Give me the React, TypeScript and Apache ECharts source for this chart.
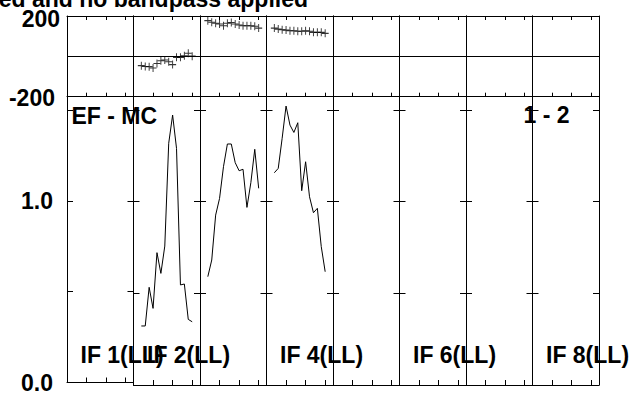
import React, { useEffect, useRef } from "react";
import * as echarts from "echarts";

// ---- data ----
const TITLE = "ed and no bandpass applied";
const SOURCE_LABEL = "EF - MC";
const BASELINE_LABEL = "1 - 2";
const IF_LABELS = ["IF 1(LL)", "IF 2(LL)", "", "IF 4(LL)", "", "IF 6(LL)", "", "IF 8(LL)"];
const CHANNELS = [2, 3, 4, 5, 6, 7, 8, 9, 10, 11, 12, 13, 14, 15];

const PHASE_IF2 = [-46, -50, -51, -58, -35, -22, -18, -27, -41, -5, -5, 3, 15, 1];
const PHASE_IF3 = [177, 169, 164, 160, 152, 164, 168, 160, 155, 152, 152, 152, 149, 140];
const PHASE_IF4 = [140, 135, 132, 130, 127, 127, 124, 124, 127, 124, 119, 119, 119, 114];

const AMP_IF2 = [0.322, 0.322, 0.533, 0.418, 0.722, 0.609, 0.758, 1.319, 1.473, 1.291, 0.546, 0.551, 0.358, 0.345];
const AMP_IF3 = [0.591, 0.682, 0.927, 1.018, 1.191, 1.315, 1.315, 1.213, 1.169, 1.177, 0.969, 1.104, 1.286, 1.073];
const AMP_IF4 = [1.158, 1.182, 1.346, 1.522, 1.418, 1.378, 1.431, 1.06, 1.218, 1.027, 0.94, 0.964, 0.755, 0.618];

const PHASE_SERIES = [
  { panel: 1, values: PHASE_IF2 },
  { panel: 2, values: PHASE_IF3 },
  { panel: 3, values: PHASE_IF4 },
];
const AMP_SERIES = [
  { panel: 1, values: AMP_IF2 },
  { panel: 2, values: AMP_IF3 },
  { panel: 3, values: AMP_IF4 },
];

const PHASE_MIN = -200;
const PHASE_MAX = 200;
const PHASE_LABEL_VALUES = [-200, 200];
const AMP_MIN = 0;
const AMP_MAX = 1.573;
const AMP_LABEL_VALUES = [0, 1];
const CHAN_MIN = 0;
const CHAN_MAX = 17;

// ---- layout ----
const W = 636;
const H = 394;
const N_PANELS = 8;
const LEFT = 67;
const RIGHT = 599;
const TOP = 16;
const MID = 96.7;
const BOTTOM = 385;
const FONT = "'Liberation Sans', Arial, Helvetica, sans-serif";
const FS = 23;

function buildOption() {
  const pw = (RIGHT - LEFT) / N_PANELS;
  const grid: any[] = [];
  const xAxis: any[] = [];
  const yAxis: any[] = [];
  const series: any[] = [];
  const line = { lineStyle: { color: "#000", width: 1 } };
  const axisLine = { show: true, onZero: false, ...line };

  const topX: number[] = [];
  const topY: number[] = [];
  const botX: number[] = [];
  const botY: number[] = [];

  for (let r = 0; r < 2; r++) {
    for (let i = 0; i < N_PANELS; i++) {
      const g = grid.length;
      grid.push({
        left: LEFT + i * pw,
        width: pw,
        top: r === 0 ? TOP : MID,
        height: r === 0 ? MID - TOP : BOTTOM - MID,
        containLabel: false,
      });
      const xBase = {
        gridIndex: g,
        type: "value",
        min: CHAN_MIN,
        max: CHAN_MAX,
        interval: 5,
        axisLine,
        axisTick: { show: true, inside: true, length: r === 0 ? 4 : 5, ...line },
        axisLabel: { show: false },
        splitLine: { show: false },
      };
      const xi = xAxis.length;
      xAxis.push({ ...xBase, position: "bottom" });
      if (r === 0) xAxis.push({ ...xBase, position: "top" });

      const yi = yAxis.length;
      if (r === 0) {
        yAxis.push({
          gridIndex: g,
          type: "value",
          position: "left",
          min: PHASE_MIN,
          max: PHASE_MAX,
          interval: 200,
          axisLine,
          axisTick: { show: false },
          axisLabel: {
            show: i === 0,
            margin: 7,
            fontFamily: FONT,
            fontWeight: "bold",
            fontSize: FS,
            color: "#000",
            formatter: (v: number) =>
              PHASE_LABEL_VALUES.includes(v) ? (v > 0 ? `{a|${v}}` : `{b|${v}}`) : "",
            rich: {
              a: { fontFamily: FONT, fontWeight: "bold", fontSize: FS, color: "#000", padding: [6, 0, 0, 0] },
              b: { fontFamily: FONT, fontWeight: "bold", fontSize: FS, color: "#000", padding: [2, 5, 0, 0] },
            },
          },
          splitLine: { show: true, ...line },
        });
        yAxis.push({
          gridIndex: g,
          type: "value",
          position: "right",
          min: PHASE_MIN,
          max: PHASE_MAX,
          interval: 200,
          axisLine,
          axisTick: { show: false },
          axisLabel: { show: false },
          splitLine: { show: false },
        });
        topX.push(xi);
        topY.push(yi);
      } else {
        const yBase = {
          gridIndex: g,
          type: "value",
          min: AMP_MIN,
          max: AMP_MAX,
          interval: 0.5,
          axisLine,
          axisTick: { show: true, inside: true, length: 6, ...line },
          splitLine: { show: false },
        };
        yAxis.push({
          ...yBase,
          position: "left",
          axisLabel: {
            show: i === 0,
            margin: 14,
            fontFamily: FONT,
            fontWeight: "bold",
            fontSize: FS,
            color: "#000",
            formatter: (v: number) => (AMP_LABEL_VALUES.includes(v) ? v.toFixed(1) : ""),
          },
        });
        yAxis.push({ ...yBase, position: "right", axisLabel: { show: false } });
        botX.push(xi);
        botY.push(yi);
      }
    }
  }

  PHASE_SERIES.forEach((s) => {
    series.push({
      type: "scatter",
      xAxisIndex: topX[s.panel],
      yAxisIndex: topY[s.panel],
      symbol: "path://M5,0 L5,10 M0,5 L10,5",
      symbolSize: [7, 8],
      itemStyle: { color: "none", borderColor: "#000", borderWidth: 1 },
      data: CHANNELS.map((c, k) => [c, s.values[k]]),
      silent: true,
    });
  });
  AMP_SERIES.forEach((s) => {
    series.push({
      type: "line",
      xAxisIndex: botX[s.panel],
      yAxisIndex: botY[s.panel],
      showSymbol: false,
      symbol: "none",
      lineStyle: { color: "#000", width: 1 },
      data: CHANNELS.map((c, k) => [c, s.values[k]]),
      silent: true,
    });
  });

  const textStyle = (text: string, x: number, y: number, align = "left") => ({
    type: "text",
    x,
    y,
    silent: true,
    style: {
      text,
      fontFamily: FONT,
      fontWeight: "bold",
      fontSize: FS,
      fill: "#000",
      align,
      verticalAlign: "middle",
    },
  });

  const graphic: any[] = [
    textStyle(TITLE, 308, -1, "right"),
    textStyle(SOURCE_LABEL, 71.5, 116),
    textStyle(BASELINE_LABEL, LEFT + 7 * pw - 9, 115),
  ];
  IF_LABELS.forEach((t, i) => {
    if (t) graphic.push(textStyle(t, LEFT + i * pw + 13.5, 355));
  });

  return {
    animation: false,
    backgroundColor: "#fff",
    grid,
    xAxis,
    yAxis,
    series,
    graphic,
  };
}

export default function App() {
  const ref = useRef<HTMLDivElement>(null);
  useEffect(() => {
    if (!ref.current) return;
    const chart = echarts.init(ref.current, undefined, { renderer: "svg" });
    chart.setOption(buildOption() as any);
    return () => chart.dispose();
  }, []);
  return (
    <div
      ref={ref}
      style={{ position: "fixed", left: 0, top: 0, width: W, height: H, background: "#fff" }}
    />
  );
}
